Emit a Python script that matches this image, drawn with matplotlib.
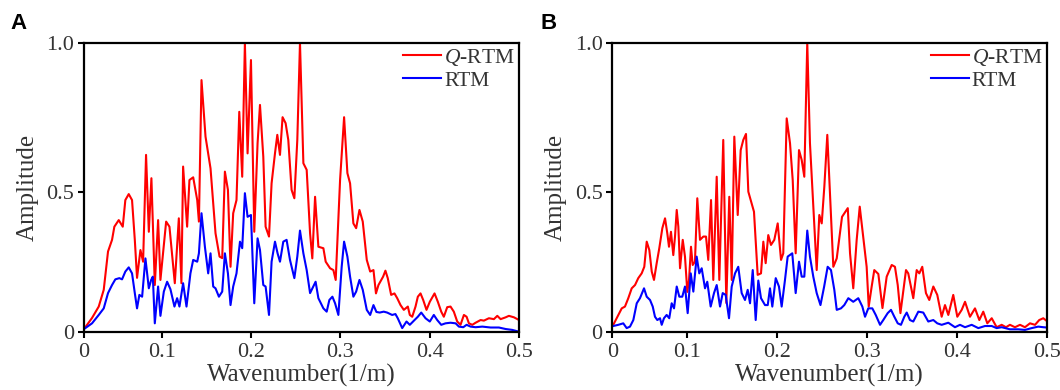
import matplotlib
matplotlib.use("Agg")
from matplotlib import pyplot as plt

plt.rcParams['font.family'] = ['Liberation Serif', 'DejaVu Serif']
plt.rcParams['mathtext.fontset'] = 'custom'
plt.rcParams['mathtext.rm'] = 'Liberation Serif'
plt.rcParams['mathtext.it'] = 'Liberation Serif:italic'

# panel A, Q-RTM
ka_q = [.0143, .0218, .0293, .0349, .0397, .0442, .0468, .0517, .0562, .0591,
        .0629, .0666, .0697, .0722, .0760, .0790, .0823, .0854, .0883, .0921,
        .0958, .0984, .1048, .1085, .1145, .1190, .1219, .1238, .1283, .1309,
        .1351, .1396, .1415, .1444, .1489, .1545, .1601, .1646, .1676, .1706,
        .1740, .1769, .1799, .1836, .1867, .1886, .1900, .1930, .1960, .1998,
        .2035, .2072, .2099, .2136, .2162, .2200, .2229, .2267, .2293, .2323,
        .2352, .2386, .2416, .2453, .2484, .2517, .2547, .2585, .2622, .2660,
        .2685, .2716, .2753, .2809, .2835, .2884, .2921, .2947, .2996, .3041,
        .3078, .3108, .3145, .3176, .3213, .3250, .3295, .3333, .3370, .3398,
        .3426, .3478, .3504, .3530, .3568, .3605, .3636, .3673, .3710, .3755,
        .3777, .3804, .3841, .3867, .3897, .3927, .3964, .4001, .4054, .4091,
        .4129, .4158, .4196, .4233, .4270, .4308, .4345, .4383, .4413, .4439,
        .4477, .4514, .4570, .4607, .4663, .4719, .4757, .4794, .4850, .4887,
        .4944, .5000]
amp_a_q = [.049, .080, .118, .174, .302, .341, .385, .407, .385, .474,
           .494, .474, .341, .214, .307, .268, .625, .368, .547, .190,
           .407, .207, .402, .385, .196, .413, .196, .586, .385, .541,
           .550, .474, .402, .875, .686, .580, .363, .285, .280, .569,
           .508, .251, .430, .474, .769, .641, .552, 1.0, .630, .942,
           .368, .664, .792, .619, .385, .352, .530, .630, .692, .625,
           .751, .731, .675, .508, .480, .675, 1.0, .597, .575, .363,
           .279, .485, .318, .313, .268, .246, .240, .207, .541, .751,
           .564, .530, .396, .380, .441, .402, .274, .235, .240, .162,
           .190, .218, .238, .213, .157, .162, .146, .123, .107, .118,
           .090, .084, .118, .151, .162, .140, .107, .134, .162, .134,
           .101, .084, .116, .118, .101, .068, .057, .090, .084, .062,
           .057, .064, .073, .071, .079, .076, .087, .076, .082, .087,
           .082, .073]

# panel A, RTM
ka_r = [.0143, .0218, .0293, .0349, .0397, .0442, .0479, .0524, .0554, .0591,
        .0629, .0666, .0697, .0722, .0748, .0779, .0816, .0854, .0880, .0899,
        .0921, .0958, .0984, .1022, .1059, .1096, .1141, .1171, .1197, .1238,
        .1276, .1320, .1351, .1396, .1415, .1444, .1482, .1519, .1545, .1575,
        .1601, .1639, .1676, .1706, .1740, .1769, .1799, .1836, .1875, .1900,
        .1930, .1960, .1998, .2035, .2072, .2099, .2136, .2162, .2200, .2229,
        .2267, .2296, .2323, .2360, .2397, .2435, .2484, .2517, .2547, .2585,
        .2622, .2660, .2722, .2753, .2809, .2846, .2876, .2910, .2940, .2977,
        .3014, .3041, .3078, .3108, .3145, .3176, .3213, .3250, .3295, .3333,
        .3370, .3403, .3440, .3485, .3523, .3579, .3616, .3642, .3692, .3740,
        .3777, .3830, .3867, .3905, .3953, .4001, .4046, .4084, .4129, .4177,
        .4233, .4290, .4327, .4376, .4413, .4458, .4514, .4589, .4682, .4775,
        .4850, .4925, .5000]
amp_a_r = [.046, .062, .090, .112, .163, .190, .209, .213, .209, .235,
           .249, .229, .163, .112, .157, .151, .279, .179, .207, .218,
           .062, .185, .087, .168, .201, .176, .118, .146, .118, .196,
           .118, .229, .274, .268, .296, .430, .318, .229, .296, .185,
           .179, .151, .168, .296, .229, .123, .185, .229, .335, .313,
           .497, .418, .424, .129, .346, .307, .190, .185, .090, .268,
           .335, .296, .268, .335, .341, .274, .213, .285, .372, .296,
           .240, .163, .201, .146, .112, .101, .140, .151, .129, .090,
           .251, .335, .285, .218, .151, .168, .207, .174, .107, .090,
           .123, .100, .098, .101, .098, .090, .093, .079, .046, .068,
           .057, .073, .084, .098, .079, .068, .090, .073, .057, .062,
           .064, .062, .051, .049, .057, .051, .049, .051, .048, .048,
           .043, .040, .034]

# panel B, Q-RTM
kb_q = [.0176, .0232, .0270, .0306, .0343, .0381, .0418, .0454, .0492, .0521,
        .0548, .0577, .0604, .0629, .0659, .0688, .0722, .0752, .0777, .0796,
        .0818, .0844, .0863, .0882, .0900, .0919, .0949, .0974, .1000, .1019,
        .1041, .1060, .1085, .1111, .1141, .1178, .1208, .1233, .1264, .1289,
        .1327, .1356, .1400, .1434, .1467, .1494, .1523, .1561, .1594, .1623,
        .1653, .1679, .1705, .1742, .1783, .1820, .1846, .1872, .1901, .1931,
        .1968, .2006, .2043, .2068, .2106, .2143, .2173, .2206, .2243, .2273,
        .2302, .2335, .2365, .2402, .2440, .2469, .2496, .2525, .2558, .2588,
        .2625, .2663, .2722, .2786, .2811, .2847, .2885, .2919, .2959, .2996,
        .3019, .3052, .3081, .3126, .3172, .3219, .3275, .3311, .3342, .3372,
        .3434, .3459, .3515, .3553, .3582, .3615, .3656, .3693, .3738, .3782,
        .3831, .3868, .3905, .3960, .4005, .4054, .4091, .4146, .4202, .4250,
        .4294, .4339, .4388, .4443, .4499, .4547, .4591, .4647, .4703, .4758,
        .4814, .4870, .4917, .4962, .5000]
amp_b_q = [.057, .090, .112, .118, .146, .179, .190, .213, .229, .251,
           .335, .307, .235, .207, .263, .313, .380, .413, .363, .318,
           .368, .290, .352, .441, .385, .246, .341, .285, .167, .207,
           .318, .257, .268, .480, .341, .352, .352, .274, .474, .207,
           .552, .207, .675, .130, .485, .207, .686, .424, .641, .675,
           .695, .502, .474, .435, .224, .229, .335, .263, .357, .324,
           .341, .396, .274, .296, .747, .664, .541, .296, .641, .608,
           .552, 1.0, .664, .452, .240, .424, .396, .519, .692, .497,
           .251, .279, .418, .447, .296, .179, .341, .452, .349, .251,
           .118, .185, .240, .227, .113, .218, .257, .251, .190, .096,
           .240, .229, .146, .240, .229, .251, .163, .140, .185, .157,
           .084, .123, .090, .157, .084, .107, .134, .084, .112, .073,
           .101, .062, .079, .049, .057, .049, .057, .049, .057, .049,
           .062, .057, .073, .079, .070]

# panel B, RTM
kb_r = [.0176, .0232, .0287, .0325, .0362, .0399, .0437, .0473, .0518, .0548,
        .0585, .0615, .0640, .0666, .0696, .0715, .0740, .0770, .0799, .0826,
        .0852, .0882, .0911, .0944, .0974, .1004, .1038, .1067, .1104, .1133,
        .1160, .1197, .1222, .1260, .1297, .1327, .1364, .1394, .1427, .1464,
        .1494, .1531, .1567, .1605, .1642, .1672, .1698, .1728, .1761, .1790,
        .1820, .1865, .1895, .1920, .1946, .1984, .2020, .2050, .2087, .2117,
        .2168, .2206, .2243, .2273, .2302, .2335, .2365, .2402, .2440, .2482,
        .2523, .2562, .2599, .2636, .2663, .2710, .2747, .2792, .2847, .2903,
        .2948, .2978, .3014, .3059, .3097, .3145, .3181, .3230, .3267, .3304,
        .3342, .3378, .3415, .3442, .3478, .3515, .3571, .3626, .3682, .3738,
        .3782, .3831, .3905, .3979, .4035, .4091, .4165, .4239, .4313, .4388,
        .4443, .4499, .4591, .4684, .4758, .4833, .4906, .4962, .5000]
amp_b_r = [.053, .057, .062, .046, .051, .073, .129, .146, .179, .151,
           .140, .118, .084, .073, .079, .057, .079, .090, .079, .129,
           .112, .185, .151, .151, .185, .096, .229, .168, .285, .229,
           .246, .179, .201, .118, .163, .190, .118, .163, .157, .079,
           .185, .229, .251, .163, .140, .174, .129, .240, .073, .205,
           .146, .123, .123, .179, .118, .213, .185, .118, .207, .285,
           .296, .163, .268, .218, .218, .372, .285, .218, .163, .123,
           .185, .251, .240, .174, .107, .112, .123, .146, .134, .146,
           .118, .084, .112, .112, .090, .057, .073, .096, .107, .084,
           .062, .057, .084, .098, .073, .068, .101, .098, .068, .073,
           .062, .057, .064, .049, .057, .049, .057, .046, .053, .053,
           .046, .049, .042, .042, .040, .046, .051, .049, .048]

x_ticklabels = ['0', '0.1', '0.2', '0.3', '0.4', '0.5']
y_ticklabels = ['0', '0.5', '1.0']


def draw_panel(ax, kq, aq, kr, ar, x0, y0):
    ax.plot(kq, aq, color='#ff0000', lw=1.5, label=r'$\mathit{Q}$-RTM')
    ax.plot(kr, ar, color='#0000ff', lw=1.5, label='RTM')
    ax.set_xlim(x0, 0.5)
    ax.set_ylim(y0, 1.0)
    ax.set_xticks([x0, 0.1, 0.2, 0.3, 0.4, 0.5])
    ax.set_xticklabels(x_ticklabels)
    ax.set_yticks([y0, 0.5, 1.0])
    ax.set_yticklabels(y_ticklabels)
    ax.tick_params(direction='out', length=4, width=1.5, labelsize=16,
                   pad=3, colors='black', labelcolor='#333333')
    ax.tick_params(axis='x', pad=4)
    for s in ax.spines.values():
        s.set_linewidth(1.6)
    ax.set_xlabel('Wavenumber(1/m)', fontsize=18, color='#333333')
    ax.set_ylabel('Amplitude', fontsize=18, color='#333333')
    ax.xaxis.set_label_coords(0.5, -0.112)
    ax.yaxis.set_label_coords(-0.105, 0.5)
    ax.legend(loc='upper right', frameon=False, fontsize=15.5,
              handlelength=1.75, handletextpad=0.15, labelspacing=0.12,
              borderaxespad=0.1, borderpad=0.1, labelcolor='#333333')


fig = plt.figure(figsize=(10.6, 3.9), dpi=100)
ax_a = fig.add_axes([84 / 1060, 58.3 / 390, 435 / 1060, 289 / 390])
ax_b = fig.add_axes([612.3 / 1060, 58.3 / 390, 434.4 / 1060, 289 / 390])

draw_panel(ax_a, ka_q, amp_a_q, ka_r, amp_a_r, 0.0128, 0.034)
draw_panel(ax_b, kb_q, amp_b_q, kb_r, amp_b_r, 0.0165, 0.034)

fig.text(10 / 1060, 1 - 13 / 390, 'A', family='Liberation Sans',
         fontweight='bold', fontsize=16, va='top', ha='left')
fig.text(540 / 1060, 1 - 13 / 390, 'B', family='Liberation Sans',
         fontweight='bold', fontsize=16, va='top', ha='left')

plt.savefig('out.png', dpi=100)
plt.close()
